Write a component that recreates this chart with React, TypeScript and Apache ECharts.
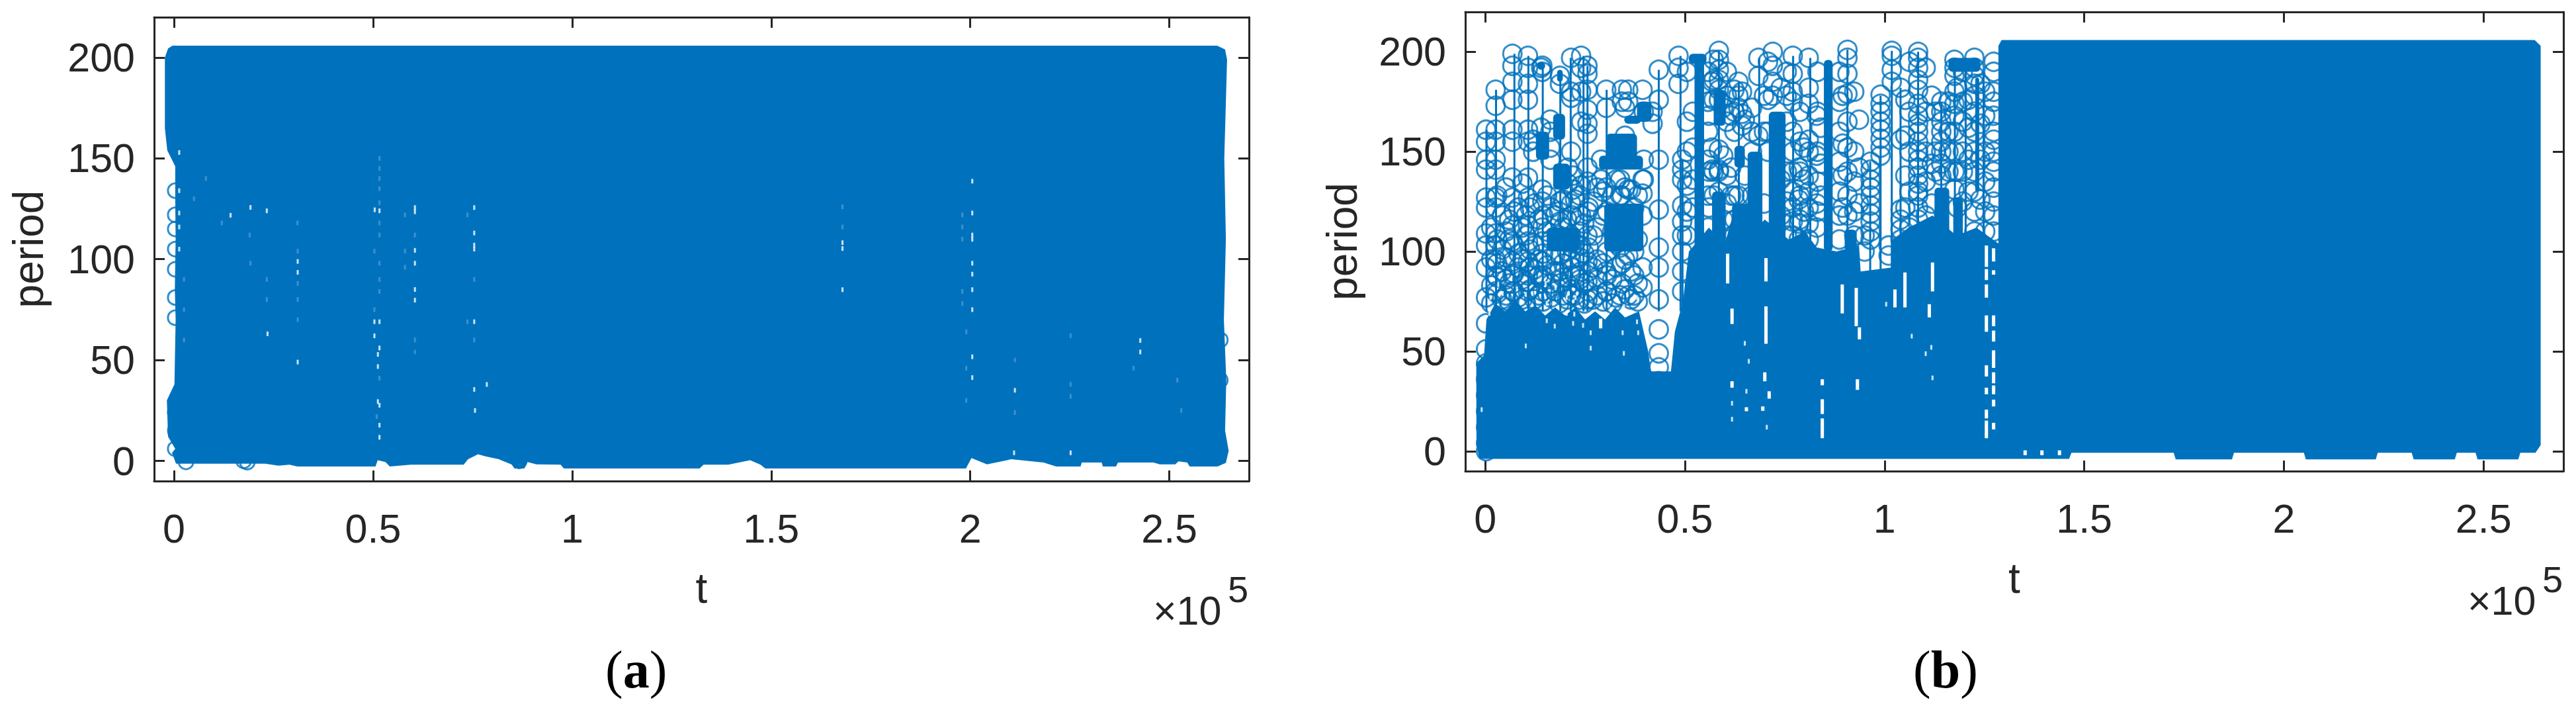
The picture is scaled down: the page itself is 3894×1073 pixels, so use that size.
import React, { useEffect, useRef } from 'react';
import * as echarts from 'echarts';

const BLUE = '#0072BD';
const INK = '#262626';
const SANS = '"Liberation Sans", Arial, sans-serif';

const tTicks = [0, 50000, 100000, 150000, 200000, 250000];
const periodTicks = [0, 50, 100, 150, 200];

// panel (a): outline of the solid mass [t, period]
const upperEdgeA = [
  [300, 6], [-1500, 12], [-1800, 30], [100, 38], [400, 70], [200, 85], [400, 110], [300, 130], [300, 146], [-1700, 154], [-2300, 165],
  [-2300, 200], [-1500, 204.5], [-400, 205.9], [120000, 205.9], [262000, 205.9], [264000, 204], [264500, 199], [263800, 150], [264200, 110],
  [263700, 70], [264300, 40], [264000, 15], [264900, 5],
];
const lowerEdgeA = [
  [-500, 4], [500, -1.4], [22900, -1.4], [26250, -2.4], [29000, -1.9], [30950, -2.8], [50600, -2.8], [51150, 0.3], [53100, -0.6], [54200, -2.8],
  [59450, -1.9], [72750, -1.9], [73850, 0.8], [76350, 3.3], [78300, 2.2], [81600, 0.8], [84900, -1.9], [85500, -3.8], [88000, -3.8], [88800, -0.6],
  [91000, -1.7], [97100, -1.9], [97900, -3.8], [132000, -3.8], [133000, -1.9], [139200, -1.9], [144700, 0.3], [147300, -1.9], [148500, -3.8],
  [198900, -3.8], [200300, 1.4], [204200, -1.7], [210300, 0.8], [218400, -0.8], [221600, -2.8], [227700, -2.8], [228000, -0.8], [233000, -0.8],
  [233300, -2.8], [236600, -2.8], [237100, -0.8], [246000, -0.8], [247600, -1.7], [251500, -1.7], [252300, -0.2], [254500, -0.8], [255100, -2.8],
  [262100, -2.8], [264200, -1],
];
const edgeCirclesA = [
  [300, 134], [300, 122], [300, 115], [300, 105], [300, 95], [300, 81], [300, 71], [300, 24], [300, 15], [300, 6],
  [3000, -0.5], [17500, 0], [18400, -0.6], [86700, 0], [262800, 60], [262800, 40],
];
const brightSpecksA = [
  [1300, 152.9], [1300, 134], [1300, 122.9], [1300, 116], [1300, 105], [19200, 125.7], [23300, 124], [14200, 121.8], [50400, 124.5], [51600, 124],
  [60500, 125.6], [60500, 123.5], [60500, 104.4], [60500, 98], [60500, 85], [60500, 79.7], [75400, 125.6], [75400, 113], [75400, 107], [75400, 105],
  [50330, 69], [51600, 69], [75400, 69], [50330, 62], [51600, 56], [51200, 52.8], [51200, 46.8], [78560, 37.9], [75400, 35.4], [51200, 29.4],
  [23480, 63], [31060, 98.9], [31060, 93.5], [31060, 49], [51600, 27.6], [51600, 17.7], [51600, 11.7], [75600, 25],
  [167900, 108.2], [167900, 105.3], [167900, 84.9], [200500, 138.7], [200500, 122.9], [200500, 112], [200500, 109.9], [200500, 98], [200500, 92.6],
  [200500, 84.9], [200500, 75], [200500, 51.6], [200500, 41.3], [225200, 4], [242700, 59.7], [242700, 54], [211200, 35], [211000, 4],
];
const faintSpecksA = [
  [51600, 150], [51600, 145], [51600, 140], [51600, 135], [51600, 128], [51600, 118], [51600, 112], [50330, 104], [51600, 98], [51600, 90], [51600, 84],
  [50330, 75], [51600, 41], [50900, 22], [31060, 104], [31060, 88], [31060, 80], [31060, 70], [58000, 122], [58000, 104], [58000, 96], [60500, 112], [60500, 60],
  [60500, 54], [73700, 122], [73700, 69], [75400, 90], [75400, 60], [167900, 126], [167900, 116], [198000, 122], [198000, 116], [198000, 110], [198000, 84],
  [198000, 78], [199000, 64], [199000, 46], [199000, 30], [225200, 62], [225200, 38], [225200, 32], [211200, 50], [211200, 24], [241000, 46], [252000, 40], [253000, 25],
  [8000, 140], [12000, 118], [19000, 112], [19200, 98], [23300, 90], [23300, 80], [31000, 118], [5000, 130], [2500, 90], [2500, 75], [2500, 60],
];

// panel (b): outline of the solid mass [t, period]
const upperEdgeB = [
  [-2200, 4], [-2250, 44], [-300, 48], [300, 66], [2500, 74], [5000, 70], [7500, 76], [10000, 70], [12500, 73], [15000, 68], [17500, 72], [20000, 68],
  [22500, 72], [25000, 66], [27500, 70], [30000, 66], [32500, 72], [35000, 67], [38500, 70], [40800, 50], [41500, 40], [46500, 40], [47500, 60], [49500, 75],
  [51000, 100], [56000, 112], [60000, 104], [62000, 118], [66000, 108], [70000, 116], [76000, 106], [80000, 110], [83000, 102], [88000, 100], [93600, 103],
  [94000, 90], [101800, 92], [102000, 106], [106000, 112], [112000, 118], [118000, 108], [123000, 112], [128500, 104], [128500, 203], [129300, 205.9],
  [262800, 205.9], [264300, 203], [264300, 3],
];
const lowerEdgeB = [
  [-1500, -3.9], [131300, -3.9], [146200, -3.9], [146800, -0.8], [172400, -0.8], [172900, -4.1], [187000, -4.1], [187500, -0.8], [205000, -0.8],
  [205500, -4.1], [223000, -4.1], [223500, -0.8], [232000, -0.8], [232500, -4.1], [242800, -4.1], [243300, -0.8], [248000, -0.8], [248500, -4.1],
  [258700, -4.1], [259200, -0.8], [263000, -0.8],
];
// dense clumps that float above the solid mass [t1, t2, low, high]
const clumpsB = [
  [12700, 16000, 146, 160], [17000, 20000, 156, 169], [17000, 21200, 131, 144], [15400, 23600, 100, 112], [30300, 38000, 144, 159],
  [28500, 39500, 141, 148], [38000, 41600, 165, 175], [34800, 39000, 164, 168], [29800, 39600, 100, 124], [52400, 54800, 100, 198],
  [57200, 60200, 163, 181], [56800, 60200, 100, 130], [61800, 66200, 100, 124], [65700, 69400, 100, 150], [62400, 65000, 142, 153],
  [71000, 75200, 100, 170], [18000, 19400, 185, 191], [13000, 15000, 191, 195], [51000, 55400, 194, 199], [84800, 87000, 100, 196],
  [90000, 93000, 100, 111], [107200, 109800, 100, 111], [112500, 116200, 100, 132], [117200, 119600, 100, 127], [116000, 124000, 190, 197],
  [122700, 123700, 130, 187],
];
// stems of the plotted line [t, top]
const stemsB = [
  [300, 161], [2700, 181], [7300, 199], [10800, 198], [14400, 193], [18800, 188], [21400, 197], [24600, 198], [25600, 193], [30400, 181], [43450, 191],
  [49400, 146], [48900, 198], [58500, 200.5], [63500, 185], [68600, 197], [77100, 198], [81400, 197], [90700, 201], [96400, 145], [99000, 178],
  [101800, 200.5], [104000, 182], [108400, 200], [114200, 175], [117600, 196], [120300, 197], [124800, 190],
];
// rings read column by column: one entry per t
const ringT = [
  200, 2600, 6800, 10700, 14300, 18700, 21500, 24000, 25600, 30300, 34200, 35800, 39400, 43450, 48400, 49300, 56800, 58500, 63400, 64300, 68400, 72000,
  77000, 81000, 90700, 99000, 96500, 101800, 104000, 108400, 114200, 117500, 122500, 127300,
];
const ringPeriods = [
  [161, 155, 146, 141, 127, 122, 109, 103, 92, 77, 64, 51, 44, 36, 28, 20, 12, 4, 0],
  [181, 173, 161, 155, 146, 141, 127, 122, 109, 103, 96, 88, 80],
  [199, 193, 185, 176, 161, 155, 137, 127, 113, 105, 95, 88, 80],
  [198, 192, 184, 176, 161, 155, 137, 127, 113, 105, 95, 88, 80],
  [193, 190, 131, 125, 112, 105, 95, 86, 80],
  [188, 184, 125, 115, 98, 84],
  [197, 180, 177, 150, 124, 108, 96, 88, 78],
  [198, 192, 180, 165, 133, 118, 103, 90],
  [193, 189, 181, 171, 164, 159, 142, 135, 120, 108, 95, 85, 76],
  [181, 172, 132, 90, 80],
  [181, 175, 128, 94, 84],
  [181, 175, 131, 98, 78],
  [181, 136, 129, 118, 92, 82],
  [191, 176, 146, 121, 102, 92, 76, 61, 49, 42, 35],
  [198, 192, 184],
  [146, 141, 136, 123, 115, 108, 100, 90, 80],
  [141, 152, 185],
  [200.5, 196, 191, 186, 181, 176, 141, 151, 140, 130],
  [185, 178, 172, 128],
  [169, 163, 180],
  [197, 188, 158],
  [200, 193, 185, 178],
  [198, 189, 180, 175, 160, 150, 140, 130, 122, 115, 108],
  [197, 182, 174, 156, 150, 138, 130, 122, 114, 106],
  [201, 197, 189, 179, 152, 165, 140, 128, 118],
  [178.5, 174, 170, 165, 161, 156.5, 152, 148],
  [145, 141, 136, 132, 128, 123, 119, 115, 110, 106],
  [200.5, 198, 191, 185],
  [182, 156, 121, 116, 111, 106],
  [200, 197, 192, 186, 181, 174, 168, 164, 160, 155, 150, 146, 142, 138, 134, 130, 128, 122, 116],
  [175, 170, 165, 160, 155, 150, 144, 138],
  [196, 192, 188, 180, 174, 168, 160, 150, 140, 131],
  [197, 192, 188, 184, 178, 170, 160, 150, 140, 130, 120, 110],
  [195, 190, 180, 175, 168, 160, 156, 150, 145, 140, 132, 125, 118, 110],
];
// rings that thicken the speckled parts and round off the clumps
const fillT = [
  1500, 4200, 6000, 8300, 10200, 12300, 14500, 16500, 18500, 20500, 22500, 24800, 27000, 29500, 31800, 33800, 36500, 38200, 78500, 83000, 95000, 101000,
  12000, 16300, 20700, 14000, 22000, 29000, 39700, 41900, 35000, 50500, 55800, 57200, 60500, 62400, 66800, 70800, 75500, 78800, 83200, 88700, 92400,
  106200, 110300, 112800, 116000, 119600, 125200,
  3000, 5200, 7200, 9300, 11200, 13400, 15500, 17500, 19500, 21700, 23700, 25900, 28000, 30500, 32800, 35000, 37300,
  52000, 56000, 59600, 61600, 65000, 69800, 74000, 79800, 84000, 89500, 93600, 105200, 111800, 118200, 121000, 124000,
];
const fillPeriods = [
  [74, 83, 96, 112], [76, 90, 101, 118], [75, 84, 106, 116], [77, 92, 99, 122], [74, 85, 108, 118], [76, 91, 103, 124], [75, 88, 99, 118], [77, 84, 106, 122],
  [74, 90, 108, 120], [76, 82, 100, 116], [78, 88, 104, 126], [74, 84, 99, 114], [76, 92, 108, 125], [75, 94, 118, 130], [74, 86, 110, 128], [78, 102, 128, 136],
  [76, 90, 112, 131], [75, 84, 106, 128], [106, 114, 126, 142], [112, 124, 148, 168], [100, 108], [98, 103],
  [150, 156], [146, 152, 160, 166], [134, 142], [192, 162], [131, 138], [146, 136], [146, 136, 170], [170, 164], [172, 158, 152],
  [190, 165, 150, 133, 120, 108], [190, 175, 160, 146, 128, 112], [196, 186, 176, 140, 128], [190, 178, 165, 138, 124, 106], [181, 170, 160, 128, 116, 108],
  [172, 160, 150, 128, 118], [195, 176, 160, 150], [190, 178, 165, 140, 125, 108], [170, 155, 140, 128, 116], [190, 170, 150, 135, 120], [190, 175, 160, 145, 130, 118, 106],
  [180, 150, 135, 120, 108], [195, 170, 150, 130, 112], [192, 170, 150, 135, 118, 108], [170, 150, 140], [175, 160, 150, 140], [190, 175, 165, 150, 140, 125], [180, 168, 150, 135, 120, 110],
  [79, 87, 94, 106, 128], [78, 86, 97, 110, 132], [80, 89, 103, 120], [76, 86, 96, 112, 134], [81, 92, 101, 122], [78, 88, 96, 116], [79, 93, 110, 128], [80, 90, 98, 118],
  [78, 87, 94, 112, 126], [81, 92, 102, 118], [76, 86, 97, 110, 128], [80, 90, 102, 122], [78, 86, 96, 112, 132], [80, 88, 100, 120], [77, 92, 104, 118, 136], [81, 96, 116, 132], [78, 88, 100, 122],
  [122, 136, 152, 170], [122, 140, 168], [116, 148, 172], [128, 142, 168], [116, 138, 166], [124, 160, 178], [118, 136, 182], [120, 136, 152], [128, 144, 162], [122, 138, 154, 178],
  [124, 142, 166], [122, 138, 158, 176], [124, 144, 178], [122, 140, 182], [130, 146, 162, 176], [126, 146, 164, 184],
];
// white slits left in the mass [t, low, high]
const gapsB = [
  [28000, 76.9, 86.8], [29200, 76.9, 86.8], [15100, 91.7, 96.7], [34450, 81, 87.4], [31400, 81, 85.5], [29200, 69.7, 74.7], [28900, 61.5, 66.4],
  [60700, 84, 98.9], [70300, 85, 96.7], [70300, 53.8, 72.5], [61800, 63.7, 71.4], [61800, 31.8, 35], [70000, 35, 39.5], [71100, 26.3, 30],
  [69500, 20.2, 22.4], [65400, 20, 22], [26400, 75.8, 78], [84400, 33, 36], [84400, 18.6, 26], [84400, 6.5, 16.4], [89400, 69, 83.5], [92900, 62.6, 81.8],
  [93700, 56, 62], [93200, 30.7, 36], [102600, 72, 81], [105100, 72, 89.5], [112000, 80, 94.5], [111200, 67, 73.6], [125500, 92.3, 103], [125500, 85.7, 91.2],
  [125500, 76.9, 83.5], [125500, 59.8, 68], [125500, 37.4, 43], [125500, 28.5, 31.8], [125500, 16.4, 20.8], [125500, 6.5, 15.3], [127300, 95, 101.6],
  [127300, 88.4, 90.6], [127300, 62.6, 68], [127300, 54.9, 60.4], [127300, 41.7, 50.5], [127300, 34, 39.5], [127300, 28.5, 32.9], [127300, 22.4, 25.8],
  [127300, 10.9, 14.2], [135200, -2, 0.4], [139400, -2, 0.4], [143800, -2, 0.4],
];
const specksB = [
  [1300, 76.9], [3250, 83.5], [4360, 79], [7950, 81.3], [10150, 78.5], [11800, 79], [15100, 84], [17600, 81.8], [20400, 76.9], [22600, 76.9], [15400, 74],
  [17000, 74], [20400, 69], [22300, 68.6], [15400, 65.3], [17400, 62.6], [22000, 64], [24500, 63], [26400, 59.3], [26400, 51.6], [34400, 59.3], [31400, 70.8],
  [34700, 72.5], [38000, 76.9], [38000, 64.8], [38300, 59.3], [10150, 52.7], [1050, 69], [-900, 20.8], [34700, 49], [100400, 73.6], [110300, 48.8],
  [112000, 36.7], [111700, 52], [106800, 57.6], [65400, 30], [61800, 24], [61800, 16], [66000, 45], [65000, 54], [70500, 12],
];

const flat = (ts: number[], lists: number[][]) => ts.flatMap((t, i) => lists[i].map((p) => [t, p]));

const polygonItem = (edges: number[][]) => (params: any, api: any) => {
  if (params.dataIndex !== 0) return null;
  return {
    type: 'polygon',
    shape: { points: edges.map((d) => api.coord(d)) },
    style: { fill: BLUE },
  };
};

const axisSet = (grid: number, nameGap: number) => {
  const tick = { show: true, inside: true, length: 16, lineStyle: { color: INK, width: 3 } };
  const line = { show: true, onZero: false, lineStyle: { color: INK, width: 3 } };
  const nameText = { fontFamily: SANS, fontSize: 64, color: INK };
  return {
    x: [
      {
        type: 'value', gridIndex: grid, position: 'bottom', min: -5000, max: 270000, name: 't', nameLocation: 'middle', nameGap: 130,
        nameTextStyle: nameText, axisLine: line, splitLine: { show: false },
        axisTick: { ...tick, customValues: tTicks },
        axisLabel: { customValues: tTicks, margin: 41, fontFamily: SANS, fontSize: 61, color: INK, formatter: (v: number) => String(v / 100000) },
      },
      {
        type: 'value', gridIndex: grid, position: 'top', min: -5000, max: 270000, axisLine: line, splitLine: { show: false },
        axisTick: { ...tick, customValues: tTicks }, axisLabel: { show: false },
      },
    ],
    y: [
      {
        type: 'value', gridIndex: grid, position: 'left', min: -10, max: 220, name: 'period', nameLocation: 'middle', nameGap,
        nameTextStyle: nameText, axisLine: line, splitLine: { show: false },
        axisTick: { ...tick, customValues: periodTicks },
        axisLabel: { customValues: periodTicks, margin: 29, fontFamily: SANS, fontSize: 61, color: INK },
      },
      {
        type: 'value', gridIndex: grid, position: 'right', min: -10, max: 220, axisLine: line, splitLine: { show: false },
        axisTick: { ...tick, customValues: periodTicks }, axisLabel: { show: false },
      },
    ],
  };
};

const exponent = (right: number, top: number) => [
  { type: 'text', left: right - 145, top: top, style: { text: '×10', fontFamily: SANS, fontSize: 61, fill: INK } },
  { type: 'text', left: right - 32, top: top - 30, style: { text: '5', fontFamily: SANS, fontSize: 56, fill: INK } },
];

const caption = (left: number, letter: string) => ({
  type: 'text',
  left,
  top: 972,
  style: {
    rich: {
      p: { fontFamily: '"Liberation Serif", serif', fontSize: 80, fill: '#000' },
      b: { fontFamily: '"Liberation Serif", serif', fontSize: 80, fontWeight: 'bold', fill: '#000' },
    },
    text: `{p|(}{b|${letter}}{p|)}`,
  },
});

const App: React.FC = () => {
  const chartRef = useRef<HTMLDivElement>(null);

  useEffect(() => {
    document.body.style.margin = '0';
    if (!chartRef.current) return;
    const myChart = echarts.init(chartRef.current, undefined, { renderer: 'svg' });
    const a = axisSet(0, 158);
    const b = axisSet(1, 154);
    const onA = { xAxisIndex: 0, yAxisIndex: 0 };
    const onB = { xAxisIndex: 2, yAxisIndex: 2 };
    const outlineA = [...upperEdgeA, ...[...lowerEdgeA].reverse()];
    const outlineB = [...upperEdgeB, ...[...lowerEdgeB].reverse()];
    const ring = (size: number) => ({
      type: 'scatter', symbol: 'circle', symbolSize: size, z: 5, silent: true,
      itemStyle: { color: 'transparent', borderColor: BLUE, borderWidth: 3 },
    });
    const speck = (color: string) => ({
      type: 'scatter', symbol: 'rect', symbolSize: [3, 7], z: 6, silent: true, itemStyle: { color },
    });
    const solid = (edges: number[][]) => ({
      type: 'custom', z: 3, silent: true, data: edges, renderItem: polygonItem(edges),
    });

    const option = {
      animation: false,
      backgroundColor: '#fff',
      grid: [
        { left: 233, top: 26, width: 1655, height: 701 },
        { left: 2215, top: 18, width: 1660, height: 694 },
      ],
      xAxis: [...a.x, ...b.x],
      yAxis: [...a.y, ...b.y],
      graphic: [...exponent(1888, 892), ...exponent(3875, 877), caption(915, 'a'), caption(2892, 'b')],
      series: [
        { ...solid(outlineA), ...onA },
        { ...ring(22), ...onA, data: edgeCirclesA },
        { ...speck('#fff'), ...onA, data: brightSpecksA },
        { ...speck('#4f97d0'), ...onA, data: faintSpecksA },

        { ...solid(outlineB), ...onB },
        {
          type: 'custom', z: 3, silent: true, ...onB, data: clumpsB, encode: { x: [0, 1], y: [2, 3] },
          renderItem: (params: any, api: any) => {
            const p1 = api.coord([api.value(0), api.value(3)]);
            const p2 = api.coord([api.value(1), api.value(2)]);
            return {
              type: 'rect',
              shape: { x: p1[0], y: p1[1], width: p2[0] - p1[0], height: p2[1] - p1[1], r: 6 },
              style: { fill: BLUE },
            };
          },
        },
        {
          type: 'custom', z: 4, silent: true, ...onB, data: gapsB, encode: { x: 0, y: [1, 2] },
          renderItem: (params: any, api: any) => {
            const p1 = api.coord([api.value(0), api.value(2)]);
            const p2 = api.coord([api.value(0), api.value(1)]);
            return {
              type: 'rect',
              shape: { x: p1[0] - 2.5, y: p1[1], width: 5, height: p2[1] - p1[1] },
              style: { fill: '#fff' },
            };
          },
        },
        {
          type: 'custom', z: 5, silent: true, ...onB, data: stemsB, encode: { x: 0, y: 1 },
          renderItem: (params: any, api: any) => {
            const p1 = api.coord([api.value(0), api.value(1)]);
            const p2 = api.coord([api.value(0), 70]);
            return {
              type: 'line',
              shape: { x1: p1[0], y1: p1[1], x2: p2[0], y2: p2[1] },
              style: { stroke: BLUE, lineWidth: 3 },
            };
          },
        },
        { ...ring(28), ...onB, data: flat(ringT, ringPeriods) },
        { ...ring(28), ...onB, data: flat(fillT, fillPeriods) },
        { ...speck('#fff'), ...onB, data: specksB },
      ],
    };

    myChart.setOption(option);

    return () => {
      myChart.dispose();
    };
  }, []);

  return <div ref={chartRef} style={{ position: 'absolute', left: 0, top: 0, width: 3894, height: 1073 }}></div>;
};

export default App;
